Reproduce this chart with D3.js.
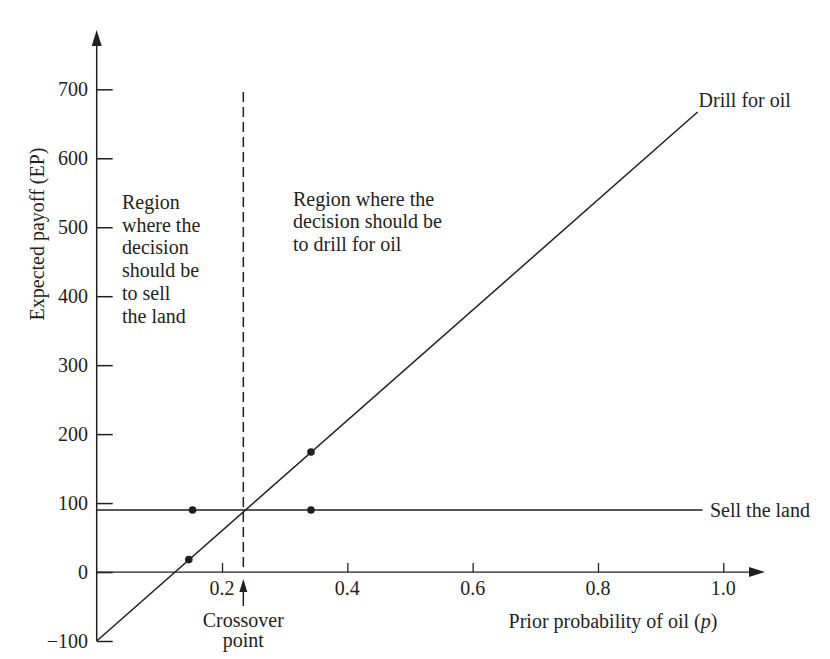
<!DOCTYPE html>
<html><head><meta charset="utf-8">
<script src="https://cdn.jsdelivr.net/npm/d3@7"></script>
<style>
body{margin:0;background:#fff;}
text{font-family:"Liberation Serif","Times New Roman",serif;fill:#231f20;}
</style></head>
<body><svg id="c" width="830" height="659"></svg>
<script>
// ---- data ----
const xTicks = [0.2, 0.4, 0.6, 0.8, 1.0];
const yTicks = [-100, 0, 100, 200, 300, 400, 500, 600, 700];
const drillLine = [{p:0, ep:-100}, {p:0.959, ep:667}];
const sellLine = [{p:0, ep:90}, {p:0.967, ep:90}];
const points = [{p:0.153, ep:90}, {p:0.147, ep:18}, {p:0.342, ep:174}, {p:0.342, ep:90}];
const crossover = 0.234;
const leftRegionText = ["Region", "where the", "decision", "should be", "to sell", "the land"];
const rightRegionText = ["Region where the", "decision should be", "to drill for oil"];

const svg = d3.select("#c");
const x = d3.scaleLinear().domain([0, 1]).range([96.7, 723.3]);
const y = d3.scaleLinear().domain([-100, 700]).range([641, 89.3]);
const ink = "#231f20";
const fs = 20;

// y axis
svg.append("line").attr("x1", x(0)).attr("x2", x(0)).attr("y1", y(-100)).attr("y2", 40)
  .attr("stroke", ink).attr("stroke-width", 1.5);
svg.append("path").attr("d", `M${x(0)},30 L${x(0)-5},46 L${x(0)+5},46 Z`).attr("fill", ink);
const yAxis = d3.axisRight(y).tickValues(yTicks).tickSize(16).tickFormat("");
const gy = svg.append("g").attr("transform", `translate(${x(0)},0)`).call(yAxis);
gy.select(".domain").remove();
gy.selectAll(".tick line").attr("stroke", ink).attr("stroke-width", 1.5);
svg.selectAll(".ylab").data(yTicks).enter().append("text")
  .attr("x", 88).attr("y", d => y(d)).attr("dy", "0.35em").attr("text-anchor", "end")
  .attr("font-size", fs).text(d => d < 0 ? "\u2212" + Math.abs(d) : d);

// x axis
svg.append("line").attr("x1", x(0)).attr("x2", 752).attr("y1", y(0)).attr("y2", y(0))
  .attr("stroke", ink).attr("stroke-width", 1.3);
svg.append("path").attr("d", `M765,${y(0)} L749,${y(0)-5} L749,${y(0)+5} Z`).attr("fill", ink);
const xAxis = d3.axisTop(x).tickValues(xTicks).tickSize(9).tickFormat("");
const gx = svg.append("g").attr("transform", `translate(0,${y(0)})`).call(xAxis);
gx.select(".domain").remove();
gx.selectAll(".tick line").attr("stroke", ink).attr("stroke-width", 1.3);
svg.selectAll(".xlab").data(xTicks).enter().append("text")
  .attr("x", d => x(d)).attr("y", 595).attr("text-anchor", "middle")
  .attr("font-size", fs).text(d => d.toFixed(1));

// axis titles
svg.append("text").attr("transform", "translate(44,234) rotate(-90)")
  .attr("text-anchor", "middle").attr("font-size", fs).text("Expected payoff (EP)");
const xt = svg.append("text").attr("x", 613).attr("y", 628).attr("text-anchor", "middle").attr("font-size", fs);
xt.append("tspan").text("Prior probability of oil (");
xt.append("tspan").attr("font-style", "italic").text("p");
xt.append("tspan").text(")");

// crossover dashed line
svg.append("line").attr("x1", x(crossover)).attr("x2", x(crossover)).attr("y1", 92).attr("y2", y(0))
  .attr("stroke", ink).attr("stroke-width", 1.5).attr("stroke-dasharray", "10,5");
// crossover arrow
svg.append("line").attr("x1", x(crossover)).attr("x2", x(crossover)).attr("y1", 606).attr("y2", 588)
  .attr("stroke", ink).attr("stroke-width", 1.5);
svg.append("path").attr("d", `M${x(crossover)},579 L${x(crossover)-4},592 L${x(crossover)+4},592 Z`).attr("fill", ink);
svg.append("text").attr("x", x(crossover)).attr("y", 627).attr("text-anchor", "middle").attr("font-size", fs).text("Crossover");
svg.append("text").attr("x", x(crossover)).attr("y", 647).attr("text-anchor", "middle").attr("font-size", fs).text("point");

// lines
const line = d3.line().x(d => x(d.p)).y(d => y(d.ep));
svg.append("path").datum(drillLine).attr("d", line).attr("fill", "none").attr("stroke", ink).attr("stroke-width", 1.5);
svg.append("path").datum(sellLine).attr("d", line).attr("fill", "none").attr("stroke", ink).attr("stroke-width", 1.5);

// points
svg.selectAll(".pt").data(points).enter().append("circle")
  .attr("cx", d => x(d.p)).attr("cy", d => y(d.ep)).attr("r", 3.8).attr("fill", ink);

// line labels
svg.append("text").attr("x", x(drillLine[1].p) + 1).attr("y", 107).attr("font-size", fs).text("Drill for oil");
svg.append("text").attr("x", 710).attr("y", y(90)).attr("dy", "0.35em").attr("font-size", fs).text("Sell the land");

// region texts
svg.selectAll(".lr").data(leftRegionText).enter().append("text")
  .attr("x", 122).attr("y", (d, i) => 209 + i * 22.7).attr("font-size", fs).text(d => d);
svg.selectAll(".rr").data(rightRegionText).enter().append("text")
  .attr("x", 293).attr("y", (d, i) => 206 + i * 22.3).attr("font-size", fs).text(d => d);
</script></body></html>
